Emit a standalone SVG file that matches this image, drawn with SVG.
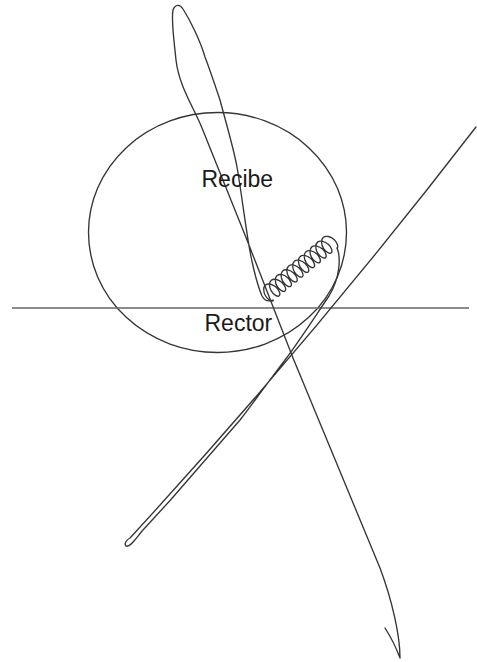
<svg xmlns="http://www.w3.org/2000/svg" width="477" height="662" viewBox="0 0 477 662">
<style>
.ink{fill:none;stroke:#353535;stroke-width:1.35;stroke-linecap:round;stroke-linejoin:round}
.rule{fill:none;stroke:#666;stroke-width:1.6}
.lbl{font-family:"Liberation Sans",Arial,sans-serif;font-size:23px;fill:#1a1a1a}
</style>
<rect width="477" height="662" fill="#fff"/>
<g id="circle">
<ellipse class="ink" cx="217.5" cy="232.5" rx="129" ry="120"/>
</g>
<g id="horizontal-line">
<path class="rule" d="M12,308 L469,308"/>
</g>
<g id="strokes">
<path id="long-loop" class="ink" d="M385,628 Q394,642 400,658 C400,635 392,600 380,568 L293,358 L247,240 L202,128 C193,106 179,86 176,60 C174,40 171,20 173,10 C175,4 180,4 183,9 C190,20 200,40 205,57 C210,70 215,85 220,100 C228,130 234,150 237,167 C241,190 244,215 247,233 C250,255 256,282 262,296 Q266,303 273,300"/>
<g id="coil" transform="translate(268,294) rotate(-39.5)">
<path class="ink" d="M0,8.5 c-1.993,0 -3.75,-4.05 -3.125,-8.5 c.625,-4.45 3.632,-8.5 6.875,-8.5 c3.243,0 6.25,4.05 6.875,8.5 c.625,4.45 -1.132,8.5 -3.125,8.5 c-1.993,0 -3.75,-4.05 -3.125,-8.5 c.625,-4.45 3.632,-8.5 6.875,-8.5 c3.243,0 6.25,4.05 6.875,8.5 c.625,4.45 -1.132,8.5 -3.125,8.5 c-1.993,0 -3.75,-4.05 -3.125,-8.5 c.625,-4.45 3.632,-8.5 6.875,-8.5 c3.243,0 6.25,4.05 6.875,8.5 c.625,4.45 -1.132,8.5 -3.125,8.5 c-1.993,0 -3.75,-4.05 -3.125,-8.5 c.625,-4.45 3.632,-8.5 6.875,-8.5 c3.243,0 6.25,4.05 6.875,8.5 c.625,4.45 -1.132,8.5 -3.125,8.5 c-1.993,0 -3.75,-4.05 -3.125,-8.5 c.625,-4.45 3.632,-8.5 6.875,-8.5 c3.243,0 6.25,4.05 6.875,8.5 c.625,4.45 -1.132,8.5 -3.125,8.5 c-1.993,0 -3.75,-4.05 -3.125,-8.5 c.625,-4.45 3.632,-8.5 6.875,-8.5 c3.243,0 6.25,4.05 6.875,8.5 c.625,4.45 -1.132,8.5 -3.125,8.5 c-1.993,0 -3.75,-4.05 -3.125,-8.5 c.625,-4.45 3.632,-8.5 6.875,-8.5 c3.243,0 6.25,4.05 6.875,8.5 c.625,4.45 -1.132,8.5 -3.125,8.5 c-1.993,0 -3.75,-4.05 -3.125,-8.5 c.625,-4.45 3.632,-8.5 6.875,-8.5 c3.243,0 6.25,4.05 6.875,8.5 c.625,4.45 -1.132,8.5 -3.125,8.5 c-1.993,0 -3.75,-4.05 -3.125,-8.5 c.625,-4.45 3.632,-8.5 6.875,-8.5 c3.243,0 6.25,4.05 6.875,8.5 c.625,4.45 -1.132,8.5 -3.125,8.5 c-1.993,0 -3.75,-4.05 -3.125,-8.5 c.625,-4.45 3.632,-8.5 6.875,-8.5 c3.243,0 6.25,4.05 6.875,8.5 c.625,4.45 -1.132,8.5 -3.125,8.5 c-1.993,0 -3.75,-4.05 -3.125,-8.5 c.625,-4.45 3.632,-8.5 6.875,-8.5 c3.243,0 6.25,4.05 6.875,8.5 c.625,4.45 -1.132,8.5 -3.125,8.5"/>
</g>
<path id="diagonal-loop" class="ink" d="M337.1,248.1 C341,258 340,278 329,296 C318,312 300,340 285,360 C272,377 254,402 240,420 L170.5,500 L143,530 C136,538 130,548 126,546 C124,544 126,540 130,538 Q312,340 476,127"/>
</g>
<g id="label-recibe"><text class="lbl" x="201.5" y="187.3">Recibe</text></g>
<g id="label-rector"><text class="lbl" x="204.5" y="330.5">Rector</text></g>
</svg>
